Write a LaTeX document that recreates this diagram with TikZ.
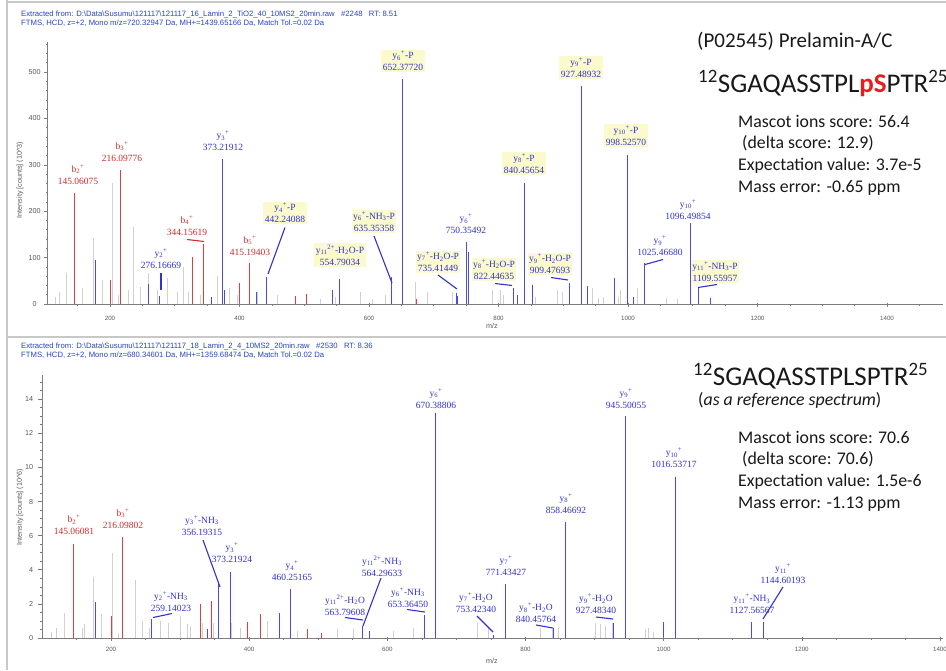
\documentclass[tikz,border=0pt]{standalone}
\usepackage{fontspec}
\setmainfont{Liberation Serif}
\newfontfamily\sansf{Liberation Sans}
\newfontfamily\calib{Carlito}
\newcommand\ion[3]{#1\textsubscript{#2}\textsuperscript{#3}}
\newcommand\sbs[1]{\textsubscript{#1}}
\definecolor{pblue}{RGB}{75,75,225}
\definecolor{pred}{RGB}{215,65,65}
\definecolor{lblue}{RGB}{50,50,205}
\definecolor{lred}{RGB}{205,45,45}
\definecolor{ybg}{RGB}{250,250,205}
\definecolor{gpk}{RGB}{208,208,208}
\definecolor{axc}{RGB}{125,125,125}
\definecolor{tlc}{RGB}{90,90,90}
\definecolor{hdrc}{RGB}{40,70,195}
\definecolor{framec}{RGB}{200,200,200}
\definecolor{seqred}{RGB}{232,30,30}
\definecolor{txtc}{RGB}{25,25,25}
\begin{document}
\begin{tikzpicture}[x=1pt,y=-1pt,
 lab/.style={font=\fontsize{9.5}{12}\selectfont, align=center, inner sep=1.5pt},
 bl/.style={lab,text=lblue},
 rl/.style={lab,text=lred},
 yb/.style={bl,fill=ybg},
 bpk/.style={draw=pblue,line width=1pt},
 rpk/.style={draw=pred,line width=1pt},
 gpkl/.style={draw=gpk,line width=0.8pt},
 bld/.style={draw=lblue,line width=1.1pt},
 rld/.style={draw=lred,line width=1.1pt},
 ax/.style={draw=axc,line width=0.6pt},
 xtl/.style={font=\sansf\fontsize{6.2}{6.2}\selectfont, text=tlc, inner sep=0pt},
 ytl/.style={font=\sansf\fontsize{7.2}{7.2}\selectfont, text=tlc, inner sep=0pt},
 hdr/.style={font=\sansf\fontsize{7.7}{8}\selectfont, text=hdrc, anchor=base west, inner sep=0pt},
 info/.style={font=\calib\fontsize{17.8}{20}\selectfont, text=txtc, anchor=base west, inner sep=0pt},
]
\fill[white] (0,0) rectangle (946,670);
\useasboundingbox (0,0) rectangle (946,670);
% frame
\draw[framec,line width=1.5pt] (7,0) -- (7,670);
\draw[framec,line width=1.2pt] (7,2) -- (946,2);
\draw[framec,line width=1.5pt] (7,337) -- (946,337);

% ================= TOP PANEL =================
\node[hdr] (h1a) at (21,16.7) {Extracted from: D:\textbackslash Data\textbackslash Susumu\textbackslash 121117\textbackslash 121117\_16\_Lamin\_2\_TiO2\_40\_10MS2\_20min.raw\ \ \ \#2248\ \ \ RT: 8.51};
\node[hdr] (h1b) at (21,25.3) {FTMS, HCD, z=+2, Mono m/z=720.32947 Da, MH+=1439.65166 Da, Match Tol.=0.02 Da};

\begin{scope}[xshift=-19.5pt,yshift=-304pt,x=0.6475pt,y=0.464pt]
 \foreach \p/\h in {55/15, 59/25, 66/67, 82/34, 93/142, 102/52, 112/260, 118/20, 128/30, 133/166, 140/37, 148/67, 157/30, 167/57, 177/25, 183/80, 188/25, 200/20, 217/60, 229/35, 237/20, 257/25, 277/20, 306/20, 320/10, 335/15, 360/25, 372/10, 385/20, 415/47, 427/25, 452/25, 492/30, 500/30, 503/20, 535/15, 557/30, 562/25, 592/35, 598/12, 603/15, 618/15, 620/30, 637/35, 666/12, 677/10}
   \draw[gpkl] ({(\p+19.5)/0.6475},0) -- ++(0,\h);
 \foreach \m/\h in {145.06/239, 216.10/289, 328/101, 344.16/129, 415.19/88, 201/52, 400/45, 486/17, 504/21, 674/10}
   \draw[rpk] (\m,0) -- (\m,\h);
 \foreach \m/\h in {178/95, 260/43, 276.17/18, 357/16, 373.22/313, 377/30, 427/25, 442.24/58, 543/30, 554.79/54, 635.35/58, 652.38/485, 735.41/24, 737/18, 750.35/133, 753.4/112, 822.45/35, 830/20, 840.46/261, 852/41, 909.48/45, 927.49/470, 937/39, 979/56, 998.53/321, 1008/15, 1025.47/88, 1096.5/175, 1109.56/35, 1127/13}
   \draw[bpk] (\m,0) -- (\m,\h);
 % axes
 \draw[ax] (103.5,565) -- (103.5,0) -- (1486,0);
 \foreach \t in {150,200,...,1450} \draw[ax] (\t,0) -- ++(0pt,-1.6pt);
 \foreach \t in {200,400,...,1400} {\draw[ax] (\t,0) ++(0pt,1.5pt) -- ++(0pt,-4pt);
   \node[xtl] (xt1\t) at (\t,0) [yshift=-14pt] {\t};}
 \foreach \t in {20,40,...,560} \draw[ax] (103.5,\t) -- ++(-1.6pt,0pt);
 \foreach \t in {0,100,...,500} {\draw[ax] (103.5,\t) -- ++(-3.5pt,0pt);
   \node[ytl] (yt1\t) at (103.5,\t) [xshift=-13pt] {\t};}
\end{scope}
\node[ytl,rotate=90] (yti1) at (20,180) {Intensity [counts] (10\textasciicircum 3)};
\node[ytl] (mz1) at (492,326) {m/z};

% top labels
\node[rl] (t1) at (78,174.5) {\ion{b}{2}{+}\\145.06075};
\node[rl] (t2) at (122,151.5) {\ion{b}{3}{+}\\216.09776};
\node[bl] (t3) at (223,141) {\ion{y}{3}{+}\\373.21912};
\node[yb] (t4) at (285,213) {\ion{y}{4}{+}-P\\442.24088};
\node[rl] (t5) at (187,225.5) {\ion{b}{4}{+}\\344.15619};
\node[rl] (t6) at (250,245.5) {\ion{b}{5}{+}\\415.19403};
\node[bl] (t7) at (161,258.5) {\ion{y}{2}{+}\\276.16669};
\node[yb] (t8) at (340,255) {\ion{y}{11}{2+}-H\sbs{2}O-P\\554.79034};
\node[yb] (t9) at (403,61) {\ion{y}{6}{+}-P\\652.37720};
\node[yb] (t10) at (581,67.5) {\ion{y}{9}{+}-P\\927.48932};
\node[yb] (t11) at (626,135.5) {\ion{y}{10}{+}-P\\998.52570};
\node[yb] (t12) at (524,163.5) {\ion{y}{8}{+}-P\\840.45654};
\node[bl] (t13) at (466,224) {\ion{y}{6}{+}\\750.35492};
\node[yb] (t14) at (374,221.5) {\ion{y}{6}{+}-NH\sbs{3}-P\\635.35358};
\node[yb] (t15) at (438,262) {\ion{y}{7}{+}-H\sbs{2}O-P\\735.41449};
\node[yb] (t16) at (494,269.5) {\ion{y}{8}{+}-H\sbs{2}O-P\\822.44635};
\node[yb] (t17) at (550,264) {\ion{y}{9}{+}-H\sbs{2}O-P\\909.47693};
\node[bl] (t18) at (688,209.5) {\ion{y}{10}{+}\\1096.49854};
\node[bl] (t19) at (660,246) {\ion{y}{9}{+}\\1025.46680};
\node[yb] (t20) at (715,271.5) {\ion{y}{11}{+}-NH\sbs{3}-P\\1109.55957};
% top leaders
\draw[rld] (187,239.5) -- (204,241.5);
\draw[bld] (161,273) -- (161,290);
\draw[bld] (285,227.5) -- (268,274);
\draw[bld] (374,236) -- (392,283);
\draw[bld] (438,275) -- (457,289);
\draw[bld] (495,283.5) -- (512,285.5);
\draw[bld] (551,277.5) -- (568,280);
\draw[bld] (645,264.5) -- (663,259.5);
\draw[bld] (698,287.5) -- (717,284.5);

% top info text
\node[info,font=\calib\fontsize{21}{22}\selectfont] (ti) at (697,47) {(P02545) Prelamin-A/C};
\node[info,font=\calib\fontsize{27}{30}\selectfont] (seq1) at (698,92) {\textsuperscript{12}SGAQASSTPL\textcolor{seqred}{\bfseries pS}PTR\textsuperscript{25}};
\node[info] (m1a) at (738,127) {Mascot ions score: 56.4};
\node[info] (m1b) at (738,148.7) {~(delta score: 12.9)};
\node[info] (m1c) at (738,170.4) {Expectation value: 3.7e-5};
\node[info] (m1d) at (738,192) {Mass error: -0.65 ppm};

% ================= BOTTOM PANEL =================
\node[hdr] (h2a) at (21,348.7) {Extracted from: D:\textbackslash Data\textbackslash Susumu\textbackslash 121117\textbackslash 121117\_18\_Lamin\_2\_4\_10MS2\_20min.raw\ \ \ \#2530\ \ \ RT: 8.36};
\node[hdr] (h2b) at (21,357) {FTMS, HCD, z=+2, Mono m/z=680.34601 Da, MH+=1359.68474 Da, Match Tol.=0.02 Da};

\begin{scope}[xshift=-27.16pt,yshift=-638pt,x=0.6908pt,y=17.06pt]
 \foreach \p/\h in {51/0.35, 56/0.6, 64/1.45, 82/0.6, 84/0.8, 93/3.6, 101/1.4, 112/5.0, 118/0.3, 135/3.4, 142/1.0, 149/0.6, 160/1.0, 168/0.9, 180/1.3, 187/0.8, 190/0.7, 202/0.9, 213/0.9, 231/0.9, 240/0.6, 267/1.0, 290/0.5, 297/0.4, 337/0.5, 353/0.5, 393/0.4, 413/0.6, 477/0.9, 488/0.6, 540/0.6, 552/0.5, 558/0.6, 595/0.9, 600/0.8, 605/0.7, 612/0.9, 645/0.55, 648/0.6, 653/0.35}
   \draw[gpkl] ({(\p+27.16)/0.6908},0) -- ++(0,\h);
 \foreach \m/\h in {145.06/5.5, 216.10/5.9, 200/1.3, 329/2.0, 346/2.15, 398/0.95, 417/1.4, 485/0.5, 504/0.3}
   \draw[rpk] (\m,0) -- (\m,\h);
 \foreach \m/\h in {178/2.1, 259.14/1.1, 339/0.5, 356.19/3.3, 373.22/3.85, 444/1.45, 460.25/2.85, 563.8/0.7, 574/0.4, 653.36/1.35, 670.39/13.2, 753.42/0.2, 771.43/3.15, 840.46/0.6, 858.47/6.8, 927.48/0.9, 945.5/13.0, 1000/0.95, 1016.54/9.45, 1127.57/0.95, 1144.6/0.95}
   \draw[bpk] (\m,0) -- (\m,\h);
 \draw[ax] (100,15.4) -- (100,0) -- (1405,0);
 \foreach \t in {150,200,...,1400} \draw[ax] (\t,0) -- ++(0pt,-1.6pt);
 \foreach \t in {200,400,...,1400} {\draw[ax] (\t,0) ++(0pt,1.5pt) -- ++(0pt,-4pt);
   \node[xtl] (xt2\t) at (\t,0) [yshift=-11pt] {\t};}
 \foreach \t in {0.5,1,...,15} \draw[ax] (100,\t) -- ++(-1.6pt,0pt);
 \foreach \t in {0,2,...,14} {\draw[ax] (100,\t) -- ++(-3.5pt,0pt);
   \node[ytl,anchor=east] (yt2\t) at (100,\t) [xshift=-8.5pt] {\t};}
\end{scope}
\node[ytl,rotate=90] (yti2) at (20,507) {Intensity [counts] (10\textasciicircum 6)};
\node[ytl] (mz2) at (492,661) {m/z};

% bottom labels
\node[rl] (u1) at (74,525) {\ion{b}{2}{+}\\145.06081};
\node[rl] (u2) at (123,518.5) {\ion{b}{3}{+}\\216.09802};
\node[bl] (u3) at (202,525.5) {\ion{y}{3}{+}-NH\sbs{3}\\356.19315};
\node[bl] (u4) at (232,553) {\ion{y}{3}{+}\\373.21924};
\node[bl] (u5) at (292,571) {\ion{y}{4}{+}\\460.25165};
\node[bl] (u6) at (171,601.5) {\ion{y}{2}{+}-NH\sbs{3}\\259.14023};
\node[bl] (u7) at (382,566) {\ion{y}{11}{2+}-NH\sbs{3}\\564.29633};
\node[bl] (u8) at (345,605.5) {\ion{y}{11}{2+}-H\sbs{2}O\\563.79608};
\node[bl] (u9) at (408,597.5) {\ion{y}{6}{+}-NH\sbs{3}\\653.36450};
\node[bl] (u10) at (436,398.5) {\ion{y}{6}{+}\\670.38806};
\node[bl] (u11) at (506,566) {\ion{y}{7}{+}\\771.43427};
\node[bl] (u12) at (476,603) {\ion{y}{7}{+}-H\sbs{2}O\\753.42340};
\node[bl] (u13) at (536,613) {\ion{y}{8}{+}-H\sbs{2}O\\840.45764};
\node[bl] (u14) at (566,503.5) {\ion{y}{8}{+}\\858.46692};
\node[bl] (u15) at (596,604) {\ion{y}{9}{+}-H\sbs{2}O\\927.48340};
\node[bl] (u16) at (626,398.5) {\ion{y}{9}{+}\\945.50055};
\node[bl] (u17) at (674,458) {\ion{y}{10}{+}\\1016.53717};
\node[bl] (u18) at (783,574) {\ion{y}{11}{+}\\1144.60193};
\node[bl] (u19) at (752,604) {\ion{y}{11}{+}-NH\sbs{3}\\1127.56567};
% bottom leaders
\draw[bld] (153,617.5) -- (172,613.5);
\draw[bld] (203,540) -- (220,587);
\draw[bld] (345,617.5) -- (363,620);
\draw[bld] (381,578) -- (363,626);
\draw[bld] (407,609.5) -- (425,612);
\draw[bld] (477,616) -- (493,632);
\draw[bld] (536,625) -- (553,628);
\draw[bld] (596,617) -- (613,619);
\draw[bld] (783,587) -- (763,619);

% bottom info text
\node[info,font=\calib\fontsize{27}{30}\selectfont] (seq2) at (693,385) {\textsuperscript{12}SGAQASSTPLSPTR\textsuperscript{25}};
\node[info] (ref) at (698,405) {(\textit{as a reference spectrum})};
\node[info] (m2a) at (738,443) {Mascot ions score: 70.6};
\node[info] (m2b) at (738,464.7) {~(delta score: 70.6)};
\node[info] (m2c) at (738,486.3) {Expectation value: 1.5e-6};
\node[info] (m2d) at (738,508) {Mass error: -1.13 ppm};
\end{tikzpicture}
\end{document}
